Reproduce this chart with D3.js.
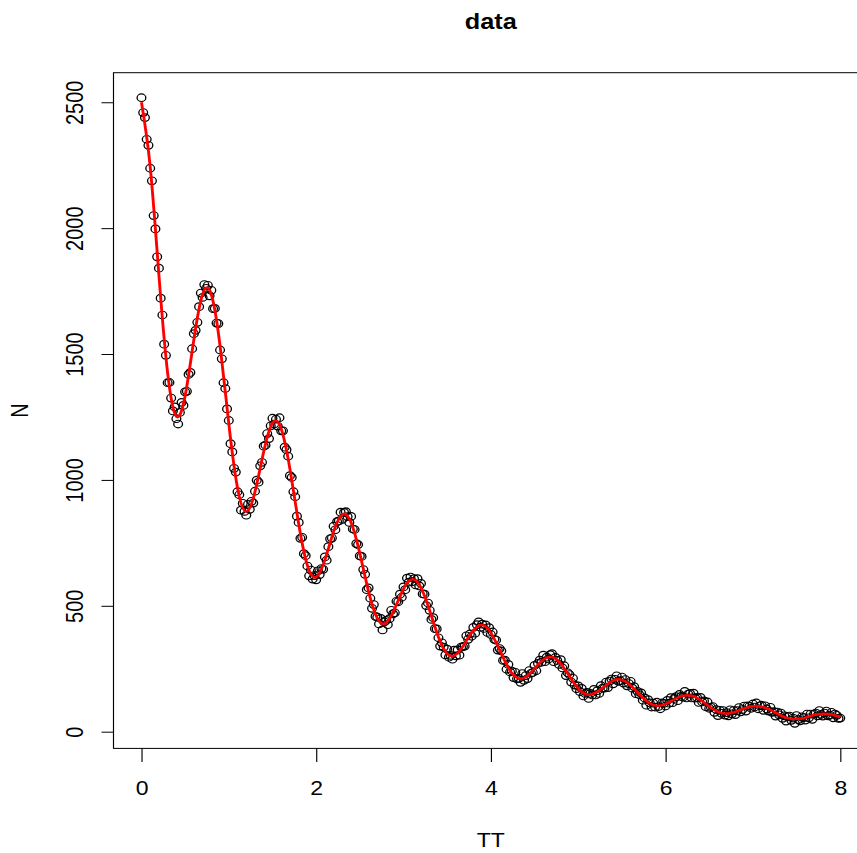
<!DOCTYPE html>
<html>
<head>
<meta charset="utf-8">
<script src="https://cdn.jsdelivr.net/npm/d3@7"></script>
<style>
  body { margin: 0; background: #fff; }
  svg { display: block; }
</style>
</head>
<body>
<div id="chart"></div>
<script>
// observed counts, sampled every 0.02 in TT
const TT_START= 0, TT_STEP= 0.02;
const N= [
  2518, 2459, 2439, 2353, 2329, 2238, 2188, 2050, 1997, 1886,
  1841, 1722, 1655, 1539, 1495, 1386, 1387, 1325, 1274, 1290,
  1243, 1222, 1268, 1308, 1296, 1350, 1352, 1419, 1427, 1521,
  1581, 1594, 1626, 1688, 1742, 1725, 1776, 1761, 1773, 1731,
  1753, 1680, 1681, 1623, 1621, 1516, 1481, 1386, 1363, 1282,
  1236, 1144, 1111, 1046, 1031, 953, 941, 880, 907, 875,
  860, 903, 883, 915, 908, 955, 999, 991, 1056, 1070,
  1134, 1138, 1184, 1164, 1215, 1245, 1222, 1241, 1214, 1247,
  1195, 1195, 1130, 1120, 1094, 1017, 1010, 953, 933, 856,
  831, 768, 772, 707, 699, 658, 619, 642, 606, 620,
  603, 639, 624, 648, 645, 694, 681, 735, 766, 769,
  816, 802, 834, 837, 872, 843, 871, 874, 854, 831,
  855, 805, 803, 747, 743, 698, 696, 644, 625, 564,
  571, 530, 490, 505, 458, 455, 428, 450, 404, 436,
  442, 425, 449, 482, 468, 472, 518, 516, 546, 534,
  575, 564, 610, 594, 614, 596, 608, 583, 608, 579,
  589, 547, 546, 501, 511, 482, 446, 453, 409, 408,
  373, 340, 353, 336, 305, 328, 296, 303, 288, 324,
  301, 325, 304, 336, 338, 340, 381, 367, 388, 379,
  414, 391, 425, 436, 415, 427, 410, 424, 394, 413,
  386, 396, 367, 364, 324, 330, 321, 283, 284, 248,
  267, 237, 241, 215, 236, 210, 212, 196, 231, 204,
  223, 211, 243, 232, 235, 263, 242, 271, 284, 276,
  304, 278, 296, 289, 306, 310, 278, 295, 283, 267,
  286, 253, 262, 223, 234, 227, 197, 212, 185, 171,
  182, 159, 172, 142, 152, 156, 132, 152, 146, 168,
  146, 163, 152, 183, 173, 173, 197, 175, 201, 209,
  190, 208, 222, 200, 203, 217, 193, 207, 182, 191,
  200, 173, 179, 151, 160, 147, 154, 125, 134, 105,
  127, 114, 98, 113, 98, 117, 100, 91, 114, 112,
  102, 124, 113, 135, 115, 132, 139, 123, 148, 140,
  137, 160, 134, 149, 152, 134, 153, 133, 136, 116,
  136, 118, 122, 99, 118, 93, 97, 100, 77, 88,
  64, 85, 73, 84, 66, 76, 63, 87, 71, 84,
  68, 84, 96, 79, 88, 102, 82, 103, 101, 93,
  110, 98, 114, 91, 103, 105, 85, 103, 90, 82,
  97, 77, 80, 62, 78, 67, 74, 53, 63, 42,
  59, 62, 45, 54, 33, 64, 48, 43, 59, 56,
  46, 70, 55, 70, 49, 70, 74, 63, 84, 69,
  62, 74, 82, 63, 66, 77, 55, 70, 65, 53,
  54
];

// fitted curve (red), sampled every 0.1 in TT
const FIT_STEP= 0.1;
const FIT= [
  2500, 2244, 1813, 1424, 1252, 1334, 1557, 1738, 1736, 1532,
  1224, 968, 874, 953, 1113, 1226, 1203, 1043, 826, 660,
  614, 682, 795, 863, 831, 708, 557, 451, 432, 489,
  567, 605, 572, 481, 376, 310, 306, 350, 403, 424,
  393, 325, 254, 214, 217, 251, 286, 296, 270, 220,
  172, 148, 155, 180, 203, 206, 184, 149, 117, 103,
  110, 129, 143, 143, 126, 100, 79, 72, 79, 92,
  101, 99, 86, 68, 54, 51, 56, 66, 71, 68,
  58
];

const X_TICKS= [0, 2, 4, 6, 8];
const Y_TICKS= [0, 500, 1000, 1500, 2000, 2500];
const TITLE= 'data', X_LABEL= 'TT', Y_LABEL= 'N';

const TT= N.map((_, i) => +(TT_START+i*TT_STEP).toFixed(2));
const FIT_TT= FIT.map((_, i) => +(i*FIT_STEP).toFixed(1));

const W= 857, H= 853;
const SX= 1.15;   // the picture is a little wider than tall
const box= { l: 113.5, r: 868.2, t: 72.7, b: 748.4 };
const FONT= '"Liberation Sans", Arial, Helvetica, sans-serif';
const FS= 20;

// R style: 4% padding on both ends
function padded(vals) {
  const [a, b]= d3.extent(vals);
  const d= (b-a)*0.04;
  return [a-d, b+d];
}

const x= d3.scaleLinear().domain(padded(TT)).range([box.l/SX, box.r/SX]);
const y= d3.scaleLinear().domain(padded(N)).range([box.b, box.t]);

const svg= d3.select('#chart').append('svg')
  .attr('width', W).attr('height', H)
  .style('font-family', FONT);

const g= svg.append('g').attr('transform', `scale(${SX},1)`);

// points
g.append('g')
  .selectAll('circle')
  .data(N)
  .join('circle')
    .attr('cx', (d, i) => x(TT[i]))
    .attr('cy', d => y(d))
    .attr('r', 3.8)
    .attr('fill', 'none')
    .attr('stroke', '#000')
    .attr('stroke-width', 1.15);

// fitted line
const line= d3.line()
  .x((d, i) => x(FIT_TT[i]))
  .y(d => y(d))
  .curve(d3.curveNatural);

g.append('path')
  .datum(FIT)
  .attr('d', line)
  .attr('fill', 'none')
  .attr('stroke', '#ff0000')
  .attr('stroke-width', 2.5);

// box
g.append('rect')
  .attr('x', box.l/SX).attr('y', box.t)
  .attr('width', (box.r-box.l)/SX).attr('height', box.b-box.t)
  .attr('fill', 'none')
  .attr('stroke', '#000')
  .attr('stroke-width', 1);

// x axis
const gx= g.append('g')
  .attr('transform', `translate(0,${box.b})`)
  .call(d3.axisBottom(x).tickValues(X_TICKS).tickSize(13.5).tickPadding(18.9).tickSizeOuter(0));
gx.select('.domain').remove();
gx.selectAll('line').attr('stroke', '#000');
gx.selectAll('text').attr('font-size', FS).attr('font-family', FONT).attr('fill', '#000');

// y axis, labels turned like R does
const gy= g.append('g')
  .attr('transform', `translate(${box.l/SX},0)`)
  .call(d3.axisLeft(y).tickValues(Y_TICKS).tickSize(12/SX).tickSizeOuter(0).tickFormat(d3.format('d')));
gy.select('.domain').remove();
gy.selectAll('line').attr('stroke', '#000');
gy.selectAll('text')
  .attr('x', null).attr('dy', null)
  .attr('text-anchor', 'middle')
  .attr('transform', `translate(${-(box.l-83.3)/SX},0) rotate(-90)`)
  .attr('font-size', FS).attr('font-family', FONT).attr('fill', '#000');

const cx= (box.l+box.r)/2/SX;

g.append('text')
  .attr('x', cx).attr('y', 29.3)
  .attr('text-anchor', 'middle')
  .attr('font-size', 22).attr('font-weight', 'bold')
  .text(TITLE);

g.append('text')
  .attr('x', cx).attr('y', 846.7)
  .attr('text-anchor', 'middle')
  .attr('font-size', FS)
  .text(X_LABEL);

g.append('text')
  .attr('transform', `translate(${28.3/SX},${(box.t+box.b)/2}) rotate(-90)`)
  .attr('text-anchor', 'middle')
  .attr('font-size', FS)
  .text(Y_LABEL);
</script>
</body>
</html>
